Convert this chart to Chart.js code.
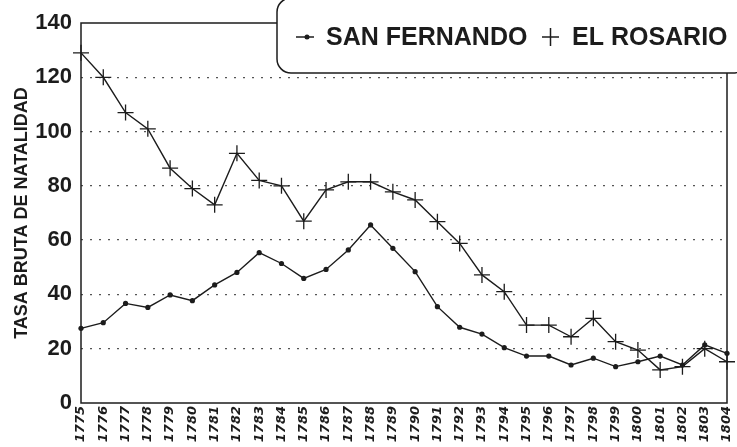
<!DOCTYPE html>
<html>
<head>
<meta charset="utf-8">
<script src="https://cdn.jsdelivr.net/npm/chart.js@4"></script>
<style>
  html, body { margin: 0; padding: 0; background: #fff; }
  #wrap { width: 737px; height: 447px; }
</style>
</head>
<body>
<div id="wrap"><canvas id="chart" width="737" height="447"></canvas></div>
<script>
const years = ['1775','1776','1777','1778','1779','1780','1781','1782','1783','1784',
  '1785','1786','1787','1788','1789','1790','1791','1792','1793','1794',
  '1795','1796','1797','1798','1799','1800','1801','1802','1803','1804'];

const sanFernando = [27.5, 29.6, 36.7, 35.2, 39.8, 37.7, 43.5, 48.1, 55.4, 51.4,
  45.9, 49.2, 56.4, 65.6, 57.0, 48.4, 35.5, 27.9, 25.4, 20.4,
  17.3, 17.3, 14.0, 16.5, 13.4, 15.2, 17.3, 14.0, 21.4, 18.3];

const elRosario = [129, 120, 107, 101, 86.5, 79, 73, 92, 82, 80,
  67, 78.5, 81.5, 81.5, 77.8, 74.8, 66.8, 58.8, 47.2, 41,
  28.7, 28.7, 24.4, 31.2, 22.6, 19.5, 12.2, 13.4, 20, 15.2];

const yTicks = [0, 20, 40, 60, 80, 100, 120, 140];
const yTitle = 'TASA BRUTA DE NATALIDAD';

const ink = '#1c1c1c';

// frame round the plot area, the top edge gets covered by the legend box
const framePlugin = {
  id: 'frame',
  afterDatasetsDraw(chart) {
    const { ctx, chartArea: a } = chart;
    ctx.save();
    ctx.strokeStyle = ink;
    ctx.lineWidth = 1.5;
    ctx.strokeRect(a.left, a.top, a.right - a.left, a.bottom - a.top);
    ctx.restore();
  }
};

// rounded legend box in the top right corner
const boxLegend = {
  id: 'boxLegend',
  afterDraw(chart) {
    const ctx = chart.ctx;
    const ds = chart.data.datasets;
    const x = 277, y = -2, w = 470, h = 75, r = 14;
    ctx.save();
    ctx.beginPath();
    ctx.roundRect(x, y, w, h, r);
    ctx.fillStyle = '#fff';
    ctx.fill();
    ctx.lineWidth = 1.5;
    ctx.strokeStyle = ink;
    ctx.stroke();

    ctx.font = 'bold 25px "Liberation Sans", Arial, sans-serif';
    ctx.fillStyle = ink;
    ctx.textBaseline = 'middle';
    const cy = 37;

    // san fernando: short line with a dot
    ctx.lineWidth = 1.5;
    ctx.beginPath();
    ctx.moveTo(296, cy);
    ctx.lineTo(314, cy);
    ctx.stroke();
    ctx.beginPath();
    ctx.arc(307, cy, 2.5, 0, Math.PI * 2);
    ctx.fill();
    ctx.fillText(ds[0].label, 326, cy + 1);

    // el rosario: plus sign
    ctx.beginPath();
    ctx.moveTo(542, cy);
    ctx.lineTo(559, cy);
    ctx.moveTo(550.5, cy - 9);
    ctx.lineTo(550.5, cy + 9);
    ctx.stroke();
    ctx.fillText(ds[1].label, 572, cy + 1);
    ctx.restore();
  }
};

new Chart(document.getElementById('chart'), {
  type: 'line',
  data: {
    labels: years,
    datasets: [{
      label: 'SAN FERNANDO',
      data: sanFernando,
      borderColor: ink,
      backgroundColor: ink,
      borderWidth: 1.4,
      pointStyle: 'circle',
      pointRadius: 2.6,
      pointBorderWidth: 0,
      tension: 0,
      clip: false
    }, {
      label: 'EL ROSARIO',
      data: elRosario,
      borderColor: ink,
      backgroundColor: ink,
      borderWidth: 1.4,
      pointStyle: 'cross',
      pointRadius: 8,
      pointBorderWidth: 1.3,
      tension: 0,
      clip: false
    }]
  },
  options: {
    responsive: false,
    animation: false,
    layout: { padding: { top: 23, right: 10, left: 0, bottom: 0 } },
    plugins: {
      legend: { display: false },
      tooltip: { enabled: false }
    },
    scales: {
      x: {
        offset: false,
        grid: { display: false, drawTicks: false },
        border: { display: false },
        ticks: {
          autoSkip: false,
          minRotation: 90,
          maxRotation: 90,
          padding: 3,
          color: ink,
          font: { family: '"DejaVu Sans", sans-serif', size: 13, weight: 'bold', style: 'italic' }
        },
        afterFit(scale) {
          scale.height = 44;
          scale.paddingLeft = 0;
          scale.paddingRight = 0;
        }
      },
      y: {
        min: 0,
        max: 140,
        afterBuildTicks(scale) { scale.ticks = yTicks.map(v => ({ value: v })); },
        grid: {
          drawTicks: false,
          color: ctx => (ctx.tick.value === 0 || ctx.tick.value === 140) ? 'rgba(0,0,0,0)' : '#555',
          lineWidth: 1.3,
        },
        border: { display: false, dash: [2, 7] },
        ticks: {
          padding: 9,
          color: ink,
          font: { family: '"Liberation Sans", Arial, sans-serif', size: 22, weight: 'bold' }
        },
        title: {
          display: true,
          text: yTitle,
          color: ink,
          padding: { top: 11, bottom: 0 },
          font: { family: '"Liberation Sans", Arial, sans-serif', size: 18, weight: 'bold' }
        },
        afterFit(scale) { scale.width = 81; }
      }
    }
  },
  plugins: [framePlugin, boxLegend]
});
</script>
</body>
</html>
